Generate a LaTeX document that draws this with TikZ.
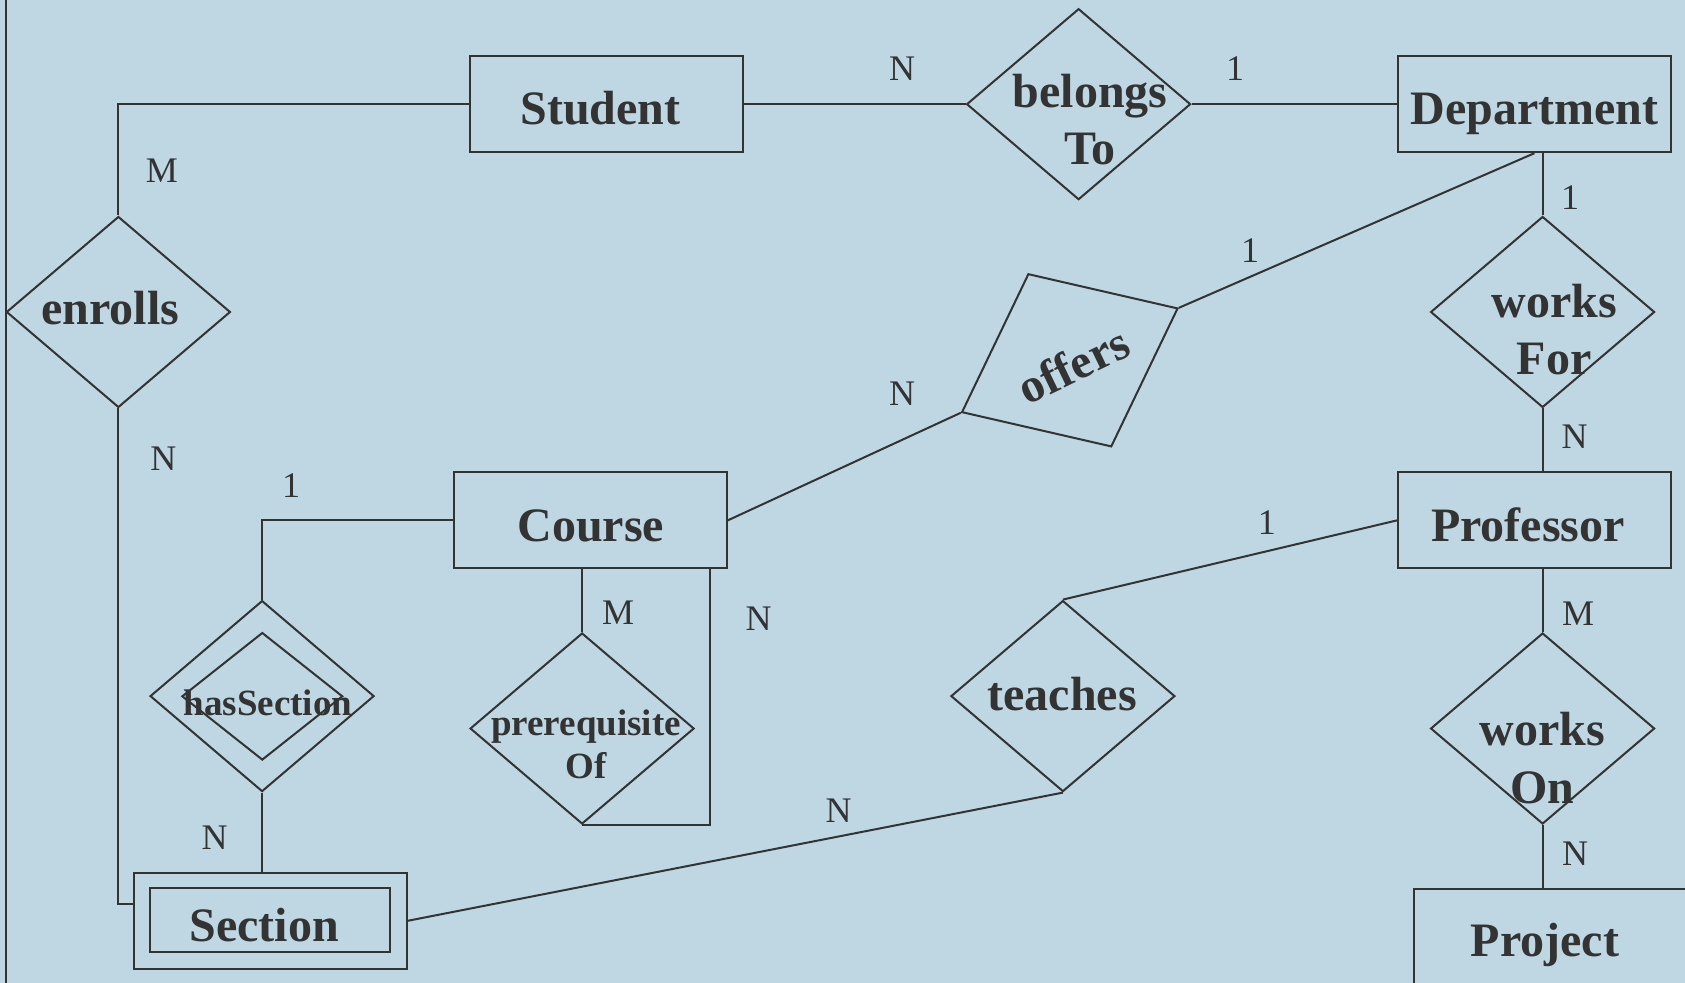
\documentclass[tikz,border=0pt]{standalone}
\usepackage{fontspec}
\setmainfont{Liberation Serif}
\usetikzlibrary{shapes.geometric}
\definecolor{bg}{RGB}{190,215,227}
\definecolor{lc}{RGB}{51,51,51}
\tikzset{
  ent/.style={draw=lc, line width=1pt, rectangle, minimum width=136.5pt, minimum height=48pt, inner sep=0pt},
  rel/.style={draw=lc, line width=1pt, diamond, minimum width=112pt, minimum height=95.5pt, inner sep=0pt},
  big/.style={text=lc, font=\bfseries\fontsize{24pt}{28.6pt}\selectfont, inner sep=0pt, align=center, yshift=-1.5pt},
  small/.style={text=lc, font=\bfseries\fontsize{18.5pt}{21.7pt}\selectfont, inner sep=0pt, align=center, yshift=-1pt},
  card/.style={text=lc, font=\fontsize{18pt}{20pt}\selectfont, inner sep=0pt, yshift=-0.5pt},
  conn/.style={draw=lc, line width=1pt}
}
\begin{document}
\begin{tikzpicture}[x=0.5pt,y=-0.5pt]
\useasboundingbox (0,0) rectangle (1685,983);
\fill[bg] (0,0) rectangle (1685,983);
\draw[conn] (5.7,0) -- (5.7,983);

% entities
\node[ent] (student) at (606.4,104.2) {};
\node[ent] (dept) at (1534.4,104.2) {};
\node[ent] (course) at (590.2,520.4) {};
\node[ent] (prof) at (1534.4,520.4) {};
\node[ent] (project) at (1550.9,936.5) {};
\node[ent] (section) at (270.2,920.8) {};
\node[ent, minimum width=120.2pt, minimum height=31.75pt] (sectionIn) at (270.2,920.2) {};

% relationships
\node[rel] (enrolls) at (118.4,312) {};
\node[rel] (belongs) at (1078.6,104.2) {};
\node[rel] (worksFor) at (1542.6,312) {};
\node[rel] (hasSection) at (262.1,696.1) {};
\node[rel, minimum width=80.4pt, minimum height=63.75pt] (hasSectionIn) at (262.3,696.3) {};
\node[rel] (prereq) at (582.1,728.5) {};
\node[rel] (teaches) at (1062.9,696.1) {};
\node[rel] (worksOn) at (1542.6,728.5) {};
\node[rel, minimum width=120pt, minimum height=96pt, rotate=25.7] (offers) at (1069.8,360.3) {};

% texts
\node[big, anchor=base] (studentT) at (600.5,121.7) {Student};
\node[big, anchor=base] (deptT) at (1534.3,121.7) {Department};
\node[big, anchor=base] (courseT) at (590.7,538.4) {Course};
\node[big, anchor=base] (profT) at (1528,538.4) {Professor};
\node[big, anchor=base] (sectionT) at (264.3,938.5) {Section};
\node[big, anchor=base] (projectT) at (1545,953) {Project};
\node[big, anchor=base] (enrollsT) at (110.3,321.7) {enrolls};
\node[big, anchor=base] (belongsT) at (1090,161.7) {belongs\\To};
\node[big, anchor=base] (worksForT) at (1554,371.7) {works\\For};
\node[big, anchor=base] (teachesT) at (1062.2,707.7) {teaches};
\node[big, anchor=base] (worksOnT) at (1542.5,800) {works\\On};
\node[big, rotate=25.7] (offersT) at (1073,362) {offers};
\node[small, anchor=base] (hasSectionT) at (267.9,713.5) {hasSection};
\node[small, anchor=base] (prereqT) at (586,776.7) {prerequisite\\Of};

% connectors
\draw[conn] (student.west) -| (enrolls.north);
\draw[conn] (enrolls.south) |- ([yshift=8.5pt]section.west);
\draw[conn] (student.east) -- (belongs.west);
\draw[conn] (belongs.east) -- (dept.west);
\draw[conn] (dept.south) -- (offers.east);
\draw[conn] (course.east) -- (offers.west);
\draw[conn] (worksFor.north |- dept.south) -- (worksFor.north);
\draw[conn] (worksFor.south) -- (worksFor.south |- prof.north);
\draw[conn] (worksOn.north |- prof.south) -- (worksOn.north);
\draw[conn] (worksOn.south) -- (worksOn.south |- project.north);
\draw[conn] (prof.west) -- (teaches.north);
\draw[conn] (teaches.south) -- (section.east);
\draw[conn] (course.west) -| (hasSection.north);
\draw[conn] (hasSection.south) -- (hasSection.south |- section.north);
\draw[conn] (prereq.north |- course.south) -- (prereq.north);
\draw[conn] ([xshift=60.1pt]course.south) |- (prereq.south);

% cardinalities
\node[card] (c1) at (162,169.7) {M};
\node[card] (c2) at (902,67.5) {N};
\node[card] (c3) at (1235,67.5) {1};
\node[card] (c4) at (1570,196.7) {1};
\node[card] (c5) at (1250,250) {1};
\node[card] (c6) at (902,393) {N};
\node[card] (c7) at (1574.5,435.8) {N};
\node[card] (c8) at (163.3,457.8) {N};
\node[card] (c9) at (291,485) {1};
\node[card] (c10) at (1266.8,521.4) {1};
\node[card] (c11) at (618,612) {M};
\node[card] (c12) at (758.5,617.5) {N};
\node[card] (c13) at (1578,613) {M};
\node[card] (c14) at (214.6,836.7) {N};
\node[card] (c15) at (838.6,809.5) {N};
\node[card] (c16) at (1575,853) {N};
\end{tikzpicture}
\end{document}
